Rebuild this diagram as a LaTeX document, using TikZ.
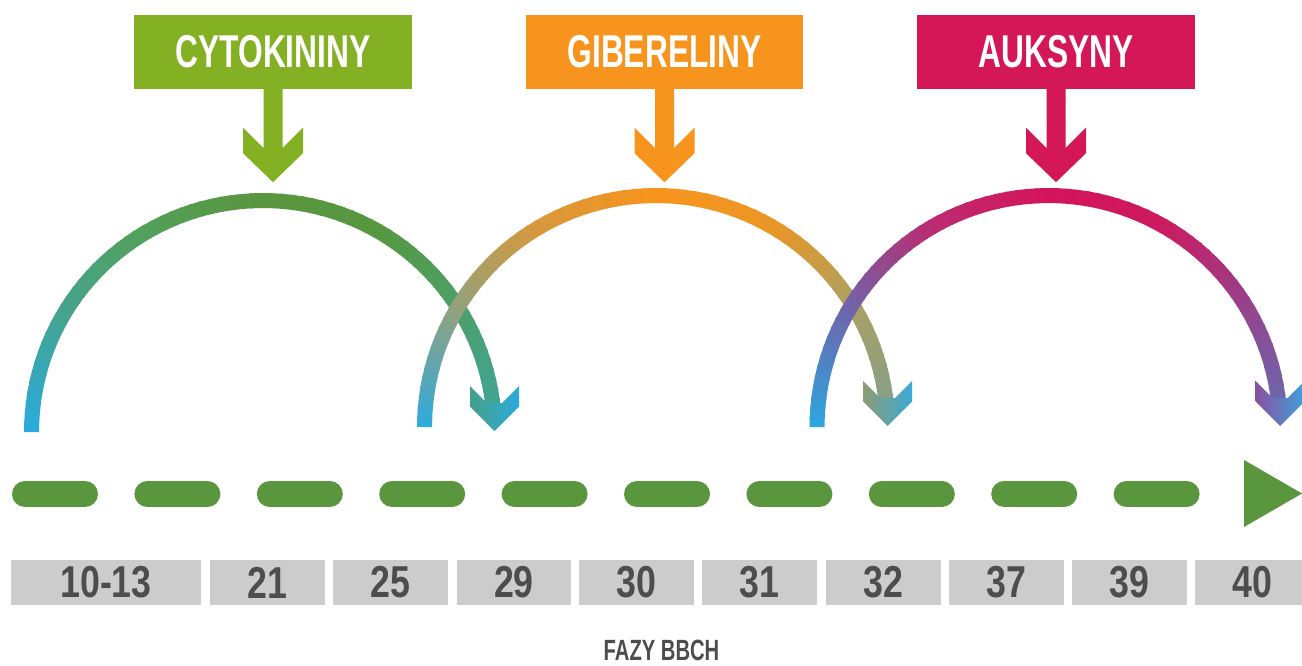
\documentclass[tikz,border=0pt]{standalone}
\usepackage{fontspec}
\newfontfamily\condA[FakeStretch=0.69]{Liberation Sans}
\newfontfamily\condB[FakeStretch=0.80]{Liberation Sans}
\usetikzlibrary{calc}
\definecolor{cytc}{HTML}{84B124}
\definecolor{gibc}{HTML}{F7941D}
\definecolor{auxc}{HTML}{D31757}
\definecolor{axg}{HTML}{5A963E}
\definecolor{boxg}{HTML}{CCCCCC}
\definecolor{numc}{HTML}{4D4D4D}
% arc 1 stops (180,150,120,90,60,30,5 deg)
\definecolor{a0}{HTML}{2AABE0}\definecolor{a1}{HTML}{44A490}\definecolor{a2}{HTML}{52A05A}
\definecolor{a3}{HTML}{5A963F}\definecolor{a4}{HTML}{57983F}\definecolor{a5}{HTML}{4B9F6C}
\definecolor{a6}{HTML}{40A596}
% arc 2
\definecolor{b0}{HTML}{2EAAE0}\definecolor{b1}{HTML}{90A27E}\definecolor{b2}{HTML}{D8983C}
\definecolor{b3}{HTML}{F7941D}\definecolor{b4}{HTML}{EB9624}\definecolor{b5}{HTML}{AAA064}
\definecolor{b6}{HTML}{84A088}
% arc 3
\definecolor{c0}{HTML}{2AA8E0}\definecolor{c1}{HTML}{6E66AC}\definecolor{c2}{HTML}{BB2C72}
\definecolor{c3}{HTML}{D4145A}\definecolor{c4}{HTML}{CC1A60}\definecolor{c5}{HTML}{94448C}
\definecolor{c6}{HTML}{6C68AE}
% arrowhead colours
\definecolor{ahAl}{HTML}{44A08A}\definecolor{ahAr}{HTML}{2CAADC}
\definecolor{ahBl}{HTML}{8C9C74}\definecolor{ahBr}{HTML}{3AAAD8}
\definecolor{ahCl}{HTML}{8A50A0}\definecolor{ahCr}{HTML}{3EA2DC}

% gradient band along a circular arc: #1 cx, #2 cy, #3 r, #4 colour prefix
\newcommand\gradband[4]{%
  \foreach \aa/\bb/\ci/\cj in {180/150/#40/#41,150/120/#41/#42,120/90/#42/#43,90/60/#43/#44,60/30/#44/#45,30/5/#45/#46}{%
    \pgfmathtruncatemacro\nn{round((\aa-\bb)/2.5)}%
    \foreach \k in {1,...,\nn}{%
      \pgfmathsetmacro\sa{min(180,\aa-(\k-1)*(\aa-\bb)/\nn+0.6)}%
      \pgfmathsetmacro\ea{\aa-\k*(\aa-\bb)/\nn}%
      \pgfmathtruncatemacro\mx{round(100-(\k-0.5)*100/\nn)}%
      \colorlet{segc}{\ci!\mx!\cj}%
      \fill[segc] ({#1+(#3+7.5)*cos(\sa)},{#2-(#3+7.5)*sin(\sa)})
        -- ({#1+(#3+7.5)*cos(\ea)},{#2-(#3+7.5)*sin(\ea)})
        -- ({#1+(#3-7.5)*cos(\ea)},{#2-(#3-7.5)*sin(\ea)})
        -- ({#1+(#3-7.5)*cos(\sa)},{#2-(#3-7.5)*sin(\sa)}) -- cycle;
    }%
  }%
}
% chevron arrowhead: #1 x, #2 cy, #3 left colour, #4 right colour
\newcommand\chevhead[4]{%
  \shade[left color=#3, right color=#4] (#1-7.5,#2-29) -- (#1-24.5,#2-46) -- (#1-24.5,#2-25.5)
    -- (#1,#2-1) -- (#1+24.5,#2-25.5) -- (#1+24.5,#2-46) -- (#1+7.5,#2-29) -- cycle;
}
% label arrow under a heading box: #1 node, #2 colour
\newcommand\labarrow[2]{%
  \fill[#2] ($(#1.south)+(-9.5,-1)$) -- ++(0,60) -- ++(-20.5,-20.5) -- ++(0,25.5)
    -- ++(30,29) -- ++(30,-29) -- ++(0,-25.5) -- ++(-20.5,20.5) -- ++(0,-60) -- cycle;
}

\tikzset{
  headbox/.style={fill=#1, minimum width=278pt, minimum height=74pt, inner sep=0pt,
    text=white, font={\condA\bfseries\fontsize{46pt}{46pt}\selectfont}},
  phasebox/.style={fill=boxg, minimum height=45pt, inner sep=0pt, text=numc,
    font={\condB\bfseries\fontsize{44.7pt}{44.7pt}\selectfont}},
  axisdash/.style={draw=axg, line width=26pt, line cap=round, dash pattern=on 60pt off 62.4pt},
}

\begin{document}
\begin{tikzpicture}[x=1pt,y=-1pt]
\useasboundingbox (0,0) rectangle (1302,665);
\fill[white] (0,0) rectangle (1302,665);

% headings
\node[headbox=cytc] (cyt) at (273,52) {CYTOKININY};
\node[headbox=gibc, minimum width=277pt] (gib) at (664.5,52) {GIBERELINY};
\node[headbox=auxc] (aux) at (1056,52) {AUKSYNY};
\labarrow{cyt}{cytc}
\labarrow{gib}{gibc}
\labarrow{aux}{auxc}

% arcs with gradient
\gradband{263}{432}{231.5}{a}
\chevhead{494.5}{432}{ahAl}{ahAr}
\gradband{656}{427}{231.5}{b}
\chevhead{887.5}{427}{ahBl}{ahBr}
\gradband{1048.5}{427}{231.5}{c}
\chevhead{1280}{427}{ahCl}{ahCr}

% time axis
\coordinate (axs) at (25,494);
\coordinate (axe) at (1200,494);
\draw[axisdash] (axs) -- (axe);
\coordinate (tipT) at (1302,493.5);
\fill[axg] (1244,460) -- (tipT) -- (1244,527) -- cycle;

% phases
\foreach \nm/\cx/\w/\t in {p1/106/190/10-13, p2/267.5/115/21, p3/390.5/115/25,
  p4/514/114/29, p5/636.5/115/30, p6/759.5/115/31, p7/883.5/115/32,
  p8/1006.5/115/37, p9/1129.5/115/39, p10/1252.5/115/40}{
  \node[phasebox, minimum width=\w pt] (\nm) at (\cx,582.5) {\t};
}
\node[text=numc, inner sep=0pt, font={\condA\bfseries\fontsize{29.3pt}{29.3pt}\selectfont}] (fazy) at (661.5,650) {FAZY BBCH};
\end{tikzpicture}
\end{document}
